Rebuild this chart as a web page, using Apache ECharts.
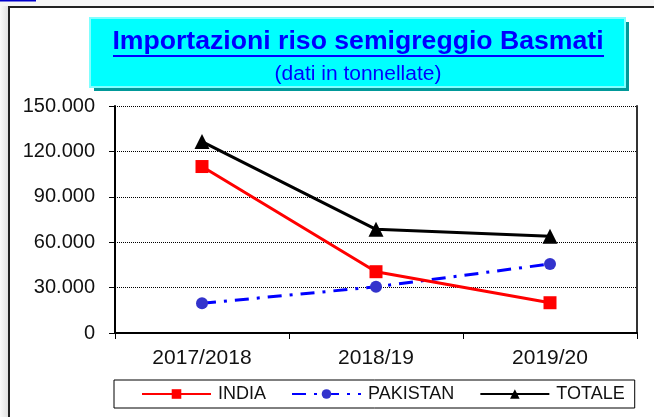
<!DOCTYPE html>
<html>
<head>
<meta charset="utf-8">
<style>
  html, body { margin: 0; padding: 0; background: #fff; }
  #chart { width: 654px; height: 417px; }
</style>
<script src="https://cdn.jsdelivr.net/npm/echarts@6/dist/echarts.min.js"></script>
</head>
<body>
<div id="chart"></div>
<script>
// dati (tonnellate)
var categories = ['2017/2018', '2018/19', '2019/20'];
var india = [110000, 40500, 20000];
var pakistan = [19600, 30500, 45600];
var totale = [126500, 68500, 64000];
var yTicks = [0, 30000, 60000, 90000, 120000, 150000];

var FONT = 'Arial, "Liberation Sans", sans-serif';

// 150000 -> "150.000"
function fmtMigliaia(v) {
    var s = String(Math.round(v));
    return s.replace(/\B(?=(\d{3})+(?!\d))/g, '.');
}

var myChart = echarts.init(document.getElementById('chart'));

var option = {
    animation: false,
    backgroundColor: '#fff',
    textStyle: { fontFamily: FONT },
    graphic: [
        // ombra a sinistra della cornice
        { type: 'rect', shape: { x: 0, y: 0, width: 8, height: 417 }, style: { fill: new echarts.graphic.LinearGradient(0, 0, 1, 0, [{ offset: 0, color: '#fafafa' }, { offset: 1, color: '#e2e2e2' }]) }, z: 0 },
        { type: 'rect', shape: { x: 0, y: 0, width: 654, height: 6 }, style: { fill: '#f6f6f6' }, z: 0 },
        { type: 'line', shape: { x1: 0, y1: 0.5, x2: 36, y2: 0.5 }, style: { stroke: '#0000cc', lineWidth: 2 }, z: 1 },
        // cornice esterna
        { type: 'rect', shape: { x: 9, y: 7, width: 660, height: 430 }, style: { fill: 'none', stroke: '#222', lineWidth: 2 }, z: 1 },
        // box titolo
        { type: 'rect', shape: { x: 94, y: 22, width: 535, height: 69 }, style: { fill: '#009999' }, z: 1 },
        { type: 'rect', shape: { x: 90, y: 18, width: 535, height: 69 }, style: { fill: '#00ffff', stroke: '#80ffff', lineWidth: 2 }, z: 2 },
        { type: 'text', x: 358, y: 42, scaleX: 1.065, style: { text: 'Importazioni riso semigreggio Basmati', fill: '#0000ff', font: 'bold 25px ' + FONT, textAlign: 'center', textVerticalAlign: 'middle' }, z: 3 },
        { type: 'line', shape: { x1: 113, y1: 56, x2: 604, y2: 56 }, style: { stroke: '#0000ff', lineWidth: 2 }, z: 3 },
        { type: 'text', x: 358, y: 74, scaleX: 1.05, style: { text: '(dati in tonnellate)', fill: '#0000ff', font: '20px ' + FONT, textAlign: 'center', textVerticalAlign: 'middle' }, z: 3 }
    ],
    grid: { left: 115, right: 17, top: 106, bottom: 84 },
    legend: {
        left: 114,
        top: 380,
        orient: 'horizontal',
        data: ['INDIA', 'PAKISTAN', 'TOTALE'],
        itemWidth: 69,
        itemHeight: 12,
        itemGap: 25,
        padding: [5, 10, 5, 27],
        borderColor: '#000',
        borderWidth: 1,
        borderRadius: 0,
        textStyle: { fontSize: 18, color: '#111', fontFamily: FONT, padding: [0, 0, 0, 2] }
    },
    xAxis: {
        type: 'category',
        data: categories,
        boundaryGap: true,
        axisLine: { lineStyle: { color: '#000', width: 2 } },
        axisTick: { show: true, length: 6, lineStyle: { color: '#000', width: 1 } },
        axisLabel: { fontSize: 21, color: '#111', margin: 15, fontFamily: FONT },
        splitLine: { show: false }
    },
    yAxis: [{
        type: 'value',
        min: yTicks[0],
        max: yTicks[yTicks.length - 1],
        interval: yTicks[1] - yTicks[0],
        axisLine: { show: true, lineStyle: { color: '#000', width: 2 } },
        axisTick: { show: true, length: 6, lineStyle: { color: '#000' } },
        axisLabel: { fontSize: 20, color: '#111', margin: 20, fontFamily: FONT, formatter: fmtMigliaia },
        splitLine: { show: true, lineStyle: { color: '#000', type: [1, 1], width: 1 } }
    }, {
        // bordo destro dell'area del grafico
        type: 'value',
        position: 'right',
        min: yTicks[0],
        max: yTicks[yTicks.length - 1],
        interval: yTicks[1] - yTicks[0],
        axisLine: { show: true, lineStyle: { color: '#333', width: 2 } },
        axisTick: { show: false },
        axisLabel: { show: false },
        splitLine: { show: false }
    }],
    series: [
        {
            name: 'INDIA',
            type: 'line',
            data: india,
            symbol: 'rect',
            symbolSize: 13,
            itemStyle: { color: '#ff0000' },
            lineStyle: { color: '#ff0000', width: 3 },
            z: 3
        },
        {
            name: 'PAKISTAN',
            type: 'line',
            data: pakistan,
            symbol: 'circle',
            symbolSize: 12,
            itemStyle: { color: '#3333cc' },
            lineStyle: { color: '#0000ff', width: 3, type: [14, 8, 3, 8] },
            z: 2
        },
        {
            name: 'TOTALE',
            type: 'line',
            data: totale,
            symbol: 'triangle',
            symbolSize: 15,
            itemStyle: { color: '#000' },
            lineStyle: { color: '#000', width: 3 },
            z: 4
        }
    ]
};

option && myChart.setOption(option);
</script>
</body>
</html>
